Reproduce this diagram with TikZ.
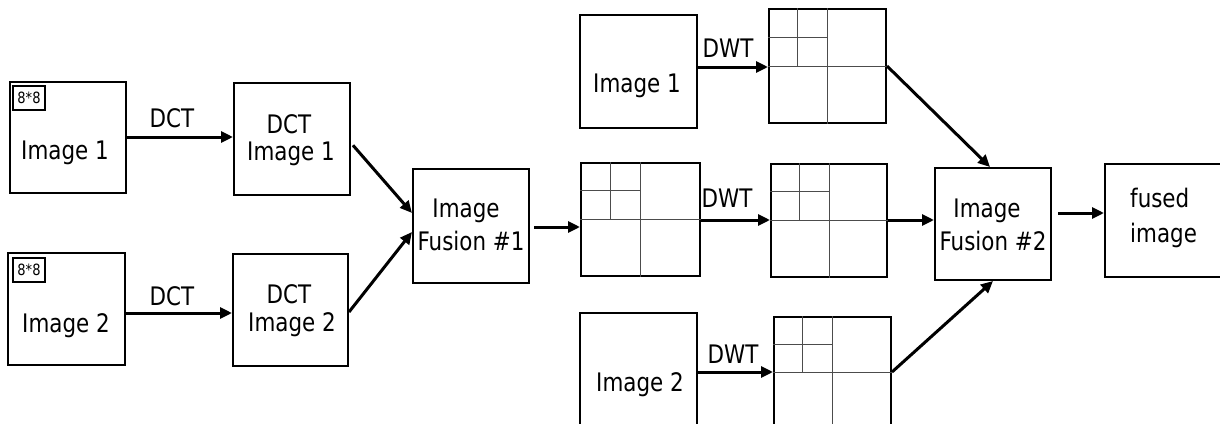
\documentclass[tikz,border=0pt]{standalone}
\usepackage{fontspec}
\setmainfont{DejaVu Sans}[FakeStretch=0.84]
\usetikzlibrary{fit,arrows.meta,calc}
\newcommand\wavegrid[1]{%
  \draw[gridline] (#1.west) -- (#1.east);
  \draw[gridline] (#1.north) -- (#1.south);
  \draw[gridline] ($(#1.north west)!.5!(#1.north)$) -- ($(#1.west)!.5!(#1.center)$);
  \draw[gridline] ($(#1.north west)!.5!(#1.west)$) -- ($(#1.north)!.5!(#1.center)$);
}
\begin{document}
\begin{tikzpicture}[x=1pt,y=-1pt,
  box/.style={draw, line width=2pt, inner sep=0pt},
  smallbox/.style={draw, line width=1.5pt, inner sep=0pt},
  arr/.style={line width=3pt, -{Triangle[length=12pt,width=11pt]}},
  gridline/.style={line width=1pt, draw=black!70},
  txt/.style={font=\fontsize{25.5}{28}\selectfont, anchor=base, inner sep=0pt},
  ltxt/.style={font=\fontsize{25.5}{28}\selectfont, anchor=base west, inner sep=0pt},
  stxt/.style={font=\fontsize{15.5}{17}\selectfont, inner sep=0pt}
]
\useasboundingbox (0,0) rectangle (1220,423);

% left column
\node[box, fit={(10,82) (126,193)}] (img1L) {};
\node[smallbox, fit={(13,86) (45,110)}] (s1) {};
\node[stxt] (s1t) at (s1.center) {8*8};
\node[txt] (img1Lt) at (65,159) {Image 1};

\node[box, fit={(8,253) (125,365)}] (img2L) {};
\node[smallbox, fit={(13,258) (45,282)}] (s2) {};
\node[stxt] (s2t) at (s2.center) {8*8};
\node[txt] (img2Lt) at (66,332) {Image 2};

\node[box, fit={(234,83) (350,195)}] (dct1) {};
\node[txt] (dct1a) at (289,133) {DCT};
\node[txt] (dct1b) at (291,160) {Image 1};

\node[box, fit={(233,254) (348,366)}] (dct2) {};
\node[txt] (dct2a) at (289,303) {DCT};
\node[txt] (dct2b) at (292,331) {Image 2};

\node[txt] (lab1) at (172,127) {DCT};
\node[txt] (lab2) at (172,305) {DCT};

% fusion 1
\node[box, fit={(413,169) (529,283)}] (f1) {};
\node[txt] (f1a) at (466,217) {Image};
\node[txt] (f1b) at (471,250) {Fusion \#1};

% wavelet column
\node[box, fit={(580,15) (697,128)}] (imgT) {};
\node[txt] (imgTt) at (637,92) {Image 1};
\node[box, fit={(769,9) (886,123)}] (gT) {};
\wavegrid{gT}
\node[txt] (labT) at (728,57) {DWT};

\node[box, fit={(581,163) (700,276)}] (g1) {};
\wavegrid{g1}
\node[box, fit={(771,164) (887,277)}] (g2) {};
\wavegrid{g2}
\node[txt] (labM) at (727,207) {DWT};

\node[box, fit={(580,313) (697,432)}] (imgB) {};
\node[txt] (imgBt) at (640,391) {Image 2};
\node[box, fit={(774,317) (891,427)}] (gB) {};
\wavegrid{gB}
\node[txt] (labB) at (733,363) {DWT};

% fusion 2
\node[box, fit={(935,168) (1051,280)}] (f2) {};
\node[txt] (f2a) at (987,217) {Image};
\node[txt] (f2b) at (993,250) {Fusion \#2};

\node[box, fit={(1105,164) (1228,277)}] (fused) {};
\node[ltxt] (fuseda) at (1130,207) {fused};
\node[ltxt] (fusedb) at (1130,242) {image};

% connectors
\draw[arr] (img1L.east |- 0,137) -- (dct1.west |- 0,137);
\draw[arr] (img2L.east |- 0,313) -- (dct2.west |- 0,313);
\draw[arr, shorten <=3pt] (dct1.east |- 0,143) -- (f1.west |- 0,213);
\draw[arr] (dct2.east |- 0,312) -- (f1.west |- 0,232);
\draw[arr, shorten <=4pt] (f1.east |- 0,227) -- (g1.west |- 0,227);
\draw[arr] (imgT.east |- 0,67) -- (gT.west |- 0,67);
\draw[arr] (g1.east |- 0,220) -- (g2.west |- 0,220);
\draw[arr] (imgB.east |- 0,372) -- (gB.west |- 0,372);
\draw[arr] (gT.east |- 0,66) -- (f2.north -| 990,0);
\draw[arr] (g2.east |- 0,220) -- (f2.west |- 0,220);
\draw[arr] (gB.east |- 0,372) -- (f2.south -| 993,0);
\draw[arr, shorten <=6pt] (f2.east |- 0,213) -- (fused.west |- 0,213);
\end{tikzpicture}
\end{document}
